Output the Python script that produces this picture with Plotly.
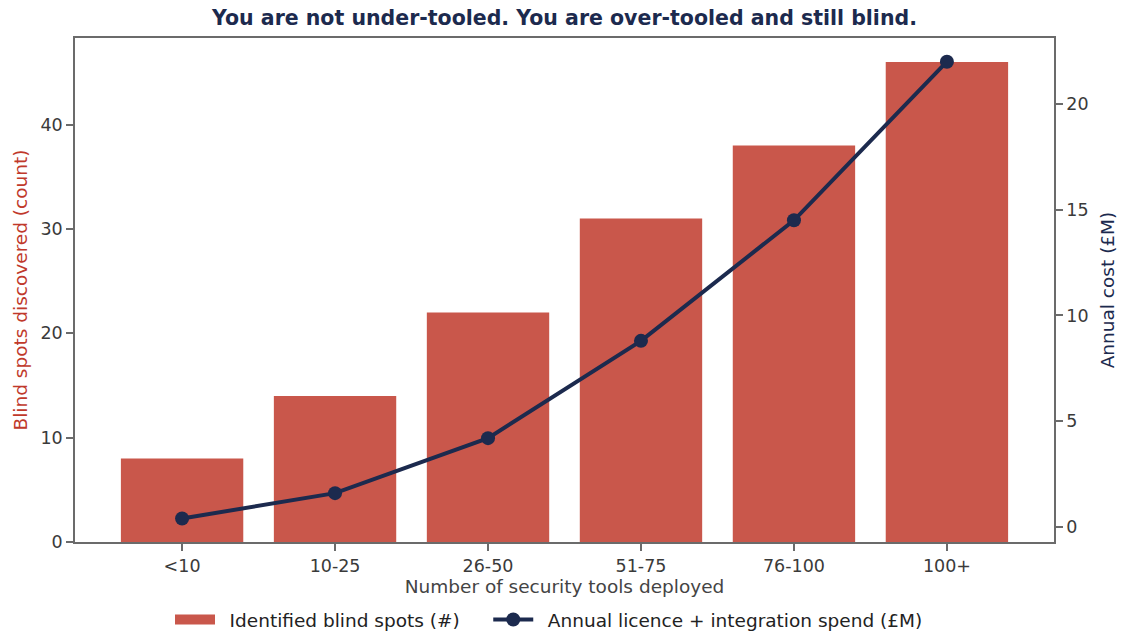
import plotly.graph_objects as go

categories = ["<10", "10-25", "26-50", "51-75", "76-100", "100+"]
blind_spots = [8, 14, 22, 31, 38, 46]
annual_cost = [0.4, 1.6, 4.2, 8.8, 14.5, 22.0]

BAR_COLOR = "#c9574b"
LEFT_TITLE_COLOR = "#c0392b"
LINE_COLOR = "#1c2a4e"
FONT = "DejaVu Sans"
AXIS_COLOR = "#6b6b6b"
TICK_FONT_COLOR = "#3a3a3a"
GAP = "\u00a0\u2009"

fig = go.Figure()
fig.add_trace(go.Bar(
    x=list(range(len(categories))), y=blind_spots, width=0.8,
    marker=dict(color=BAR_COLOR, line=dict(width=0)),
    name="Identified blind spots (#)", yaxis="y", showlegend=False,
    legendgroup="bars",
))
# legend-only entry drawn as a wide rectangle swatch
fig.add_trace(go.Scatter(
    x=[None], y=[None], mode="lines",
    line=dict(color=BAR_COLOR, width=13),
    name=GAP + "Identified blind spots (#)" + "\u00a0" * 4, legendgroup="bars",
))
fig.add_trace(go.Scatter(
    x=list(range(len(categories))), y=annual_cost, mode="lines+markers",
    line=dict(color=LINE_COLOR, width=4),
    marker=dict(color=LINE_COLOR, size=14),
    name=GAP + "Annual licence + integration spend (£M)", yaxis="y2",
))

axis_common = dict(
    showline=True, linecolor=AXIS_COLOR, linewidth=1.5,
    ticks="outside", ticklen=7, tickwidth=1.5, tickcolor=AXIS_COLOR,
    tickfont=dict(family=FONT, size=17.5, color=TICK_FONT_COLOR),
    showgrid=False, zeroline=False, automargin=False,
)

fig.update_layout(
    width=1121, height=633,
    margin=dict(l=75, r=67, t=38, b=91, autoexpand=False),
    paper_bgcolor="white", plot_bgcolor="white",
    font=dict(family=FONT),
    title=dict(
        text="<b>You are not under-tooled. You are over-tooled and still blind.</b>",
        x=0.5, xanchor="center", xref="paper",
        yref="container", y=1 - 18 / 633, yanchor="middle",
        font=dict(family=FONT, size=20.5, color=LINE_COLOR),
    ),
    xaxis=dict(
        **axis_common, mirror=True,
        range=[-0.7, 5.7],
        tickmode="array", tickvals=list(range(len(categories))), ticktext=categories,
        title=dict(text="Number of security tools deployed",
                   font=dict(family=FONT, size=18.5, color="#444444"), standoff=4),
    ),
    yaxis=dict(
        **axis_common,
        range=[0, 48.3], tickvals=[0, 10, 20, 30, 40],
        title=dict(text="Blind spots discovered (count)",
                   font=dict(family=FONT, size=18.5, color=LEFT_TITLE_COLOR), standoff=8),
    ),
    yaxis2=dict(
        **axis_common, overlaying="y", side="right",
        range=[-0.71, 23.12], tickvals=[0, 5, 10, 15, 20],
        title=dict(text="Annual cost (£M)",
                   font=dict(family=FONT, size=18.5, color=LINE_COLOR), standoff=14),
    ),
    legend=dict(
        orientation="h", x=170 / 1121, xref="container", xanchor="left",
        yref="container", y=13 / 633, yanchor="middle",
        font=dict(family=FONT, size=18.5, color="#222222"),
        itemwidth=40, tracegroupgap=0, traceorder="normal",
    ),
    bargap=0.2,
)

fig.write_html("out.html")
